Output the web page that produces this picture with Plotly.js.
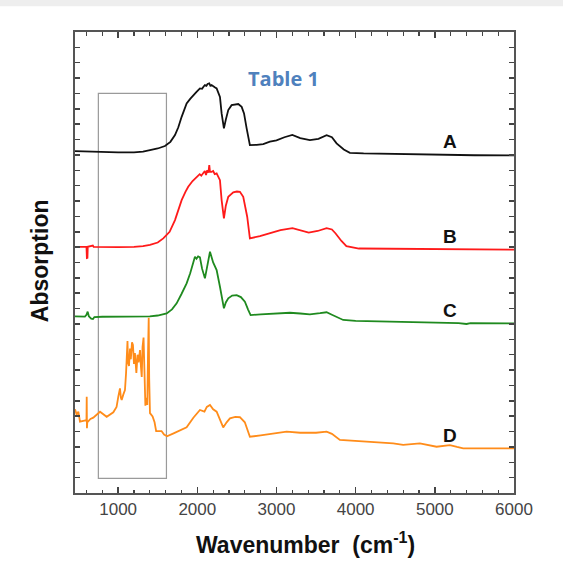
<!DOCTYPE html>
<html>
<head>
<meta charset="utf-8">
<script src="https://cdn.plot.ly/plotly-3.0.1.min.js"></script>
<style>html,body{margin:0;padding:0;background:#fff;}#chart{width:563px;height:561px;}</style>
</head>
<body>
<div id="chart"></div>
<script>
// Spectrum A (black)
const xA = [455, 600, 800, 1000, 1200, 1314, 1402, 1500, 1591, 1660, 1718, 1760, 1802, 1865, 1910, 1949, 1990, 2033, 2060, 2080, 2096, 2115, 2130, 2151, 2165, 2180, 2200, 2220, 2244, 2286, 2307, 2336, 2360, 2391, 2433, 2480, 2517, 2560, 2590, 2623, 2645, 2664, 2750, 2832, 2917, 3000, 3100, 3200, 3300, 3422, 3530, 3633, 3700, 3759, 3850, 3927, 4100, 4470, 5000, 5500, 6000];
const yA = [22.25, 22.22, 22.19, 22.16, 22.17, 22.22, 22.32, 22.42, 22.58, 22.85, 23.29, 23.8, 24.48, 25.35, 25.65, 25.89, 26.1, 26.33, 26.3, 26.45, 26.55, 26.5, 26.62, 26.66, 26.5, 26.55, 26.45, 26.4, 26.33, 25.78, 24.7, 23.73, 24.3, 24.92, 25.24, 25.3, 25.31, 25.13, 24.7, 23.73, 23.1, 22.64, 22.66, 22.71, 22.86, 22.95, 23.15, 23.3, 23.1, 22.97, 23.05, 23.29, 23.15, 22.75, 22.35, 22.14, 22.1, 22.06, 22.02, 21.98, 21.97];

// Spectrum B (red)
const xB = [455, 590, 600, 605, 612, 616, 650, 680, 690, 800, 1000, 1200, 1314, 1402, 1500, 1570, 1650, 1718, 1760, 1802, 1850, 1885, 1940, 1992, 2030, 2050, 2075, 2095, 2110, 2125, 2140, 2151, 2160, 2181, 2200, 2220, 2244, 2286, 2307, 2336, 2360, 2391, 2454, 2500, 2538, 2580, 2630, 2664, 2791, 2917, 3050, 3202, 3300, 3407, 3520, 3633, 3700, 3747, 3820, 3883, 4041, 4500, 5000, 5500, 6000];
const yB = [16.02, 16.03, 16.02, 15.29, 15.3, 16.02, 16.05, 16.1, 16.02, 16.0, 16.0, 16.02, 16.06, 16.14, 16.3, 16.57, 17.0, 17.76, 18.4, 19.06, 19.6, 19.93, 20.3, 20.58, 20.75, 20.65, 20.8, 20.95, 20.7, 21.0, 20.85, 21.34, 20.9, 20.9, 20.95, 20.75, 20.8, 20.36, 19.06, 17.87, 18.7, 19.28, 19.56, 19.62, 19.6, 19.28, 17.98, 16.57, 16.72, 16.9, 17.1, 17.24, 17.1, 16.94, 17.05, 17.24, 17.15, 16.89, 16.4, 16.07, 15.91, 15.9, 15.87, 15.84, 15.84];

// Spectrum C (green)
const xC = [455, 520, 580, 600, 615, 630, 660, 682, 700, 800, 1000, 1200, 1400, 1500, 1613, 1680, 1739, 1800, 1865, 1910, 1949, 1970, 1990, 2010, 2033, 2060, 2096, 2120, 2138, 2160, 2200, 2244, 2286, 2310, 2336, 2360, 2391, 2440, 2497, 2550, 2601, 2640, 2673, 2800, 3000, 3170, 3300, 3422, 3550, 3633, 3700, 3843, 4000, 4474, 5000, 5300, 5400, 5450, 6000];
const yC = [11.5, 11.47, 11.48, 11.6, 11.8, 11.5, 11.35, 11.32, 11.45, 11.47, 11.47, 11.48, 11.5, 11.55, 11.69, 11.95, 12.34, 12.95, 13.64, 14.3, 14.94, 15.37, 15.25, 15.4, 15.33, 14.6, 13.97, 14.6, 15.16, 15.7, 15.0, 14.51, 13.42, 12.6, 12.02, 12.4, 12.67, 12.85, 12.88, 12.75, 12.45, 11.95, 11.58, 11.63, 11.7, 11.73, 11.68, 11.63, 11.7, 11.76, 11.6, 11.26, 11.2, 11.15, 11.1, 11.05, 11.0, 11.06, 11.04];

// Spectrum D (orange)
const xD = [455, 476, 497, 518, 560, 600, 603, 606, 610, 650, 686, 771, 855, 939, 980, 1002, 1015, 1023, 1035, 1045, 1065, 1086, 1100, 1108, 1118, 1125, 1137, 1150, 1160, 1175, 1187, 1200, 1212, 1230, 1245, 1258, 1276, 1288, 1298, 1308, 1321, 1332, 1344, 1358, 1368, 1377, 1386, 1392, 1402, 1435, 1460, 1480, 1548, 1580, 1617, 1700, 1865, 1950, 2033, 2090, 2120, 2160, 2200, 2244, 2327, 2370, 2412, 2480, 2538, 2600, 2664, 2800, 3128, 3300, 3500, 3633, 3700, 3801, 4053, 4474, 4600, 4811, 5022, 5190, 5280, 5358, 6000];
const yD = [5.45, 5.1, 5.3, 4.64, 4.7, 4.75, 6.27, 4.21, 4.6, 4.82, 4.9, 5.29, 4.96, 5.25, 5.6, 6.27, 6.5, 6.81, 6.2, 6.05, 6.4, 6.7, 7.8, 8.65, 9.89, 8.5, 8.26, 9.4, 8.7, 9.8, 9.63, 8.4, 9.1, 7.81, 9.0, 8.5, 9.3, 8.2, 7.55, 9.5, 10.12, 8.0, 5.68, 6.2, 5.73, 9.0, 11.4, 7.5, 5.2, 4.98, 4.6, 4.03, 4.03, 3.8, 3.69, 3.88, 4.27, 4.9, 5.4, 5.3, 5.6, 5.73, 5.45, 5.29, 4.27, 4.6, 4.86, 4.95, 4.93, 4.6, 3.66, 3.75, 3.99, 3.92, 3.92, 3.99, 3.85, 3.45, 3.38, 3.23, 3.13, 3.23, 3.01, 3.12, 3.0, 2.91, 2.91];

const seriesLabels = ['A', 'B', 'C', 'D'];
const labelX = [5190, 5190, 5190, 5190];
const labelY = [22.9, 16.72, 11.9, 3.77];
const xTicks = [1000, 2000, 3000, 4000, 5000, 6000];
const boxX = [750, 1610];
const boxY = [0.95, 26.0];

const colors = ['#111111', '#ff1a1a', '#1f8a1f', '#ff8c1a'];
const xs = [xA, xB, xC, xD];
const ys = [yA, yB, yC, yD];

const traces = xs.map((x, i) => ({
  x: x, y: ys[i], type: 'scatter', mode: 'lines',
  line: {color: colors[i], width: 1.8}, hoverinfo: 'skip', showlegend: false
}));

const annotations = seriesLabels.map((t, i) => ({
  x: labelX[i], y: labelY[i], xref: 'x', yref: 'y', text: '<b>' + t + '</b>', showarrow: false,
  font: {family: 'Liberation Sans, Arial, sans-serif', size: 19, color: '#111'}
}));
annotations.push({
  x: 0.474, y: 0.933, xref: 'paper', yref: 'paper', text: '<b>Table 1</b>', showarrow: false,
  font: {family: 'Open Sans, sans-serif', size: 20, color: '#4f81bd'}
});
annotations.push({
  x: 0.524, y: -0.108, xref: 'paper', yref: 'paper', yanchor: 'middle',
  text: '<b>Wavenumber  (cm<sup>-1</sup>)</b>', showarrow: false,
  font: {family: 'Liberation Sans, Arial, sans-serif', size: 23, color: '#111'}
});
annotations.push({
  x: -0.0797, y: 0.503, xref: 'paper', yref: 'paper', xanchor: 'center', yanchor: 'middle',
  text: '<b>Absorption</b>', textangle: -90, showarrow: false,
  font: {family: 'Liberation Sans, Arial, sans-serif', size: 23, color: '#111'}
});

const layout = {
  width: 563, height: 561,
  margin: {l: 75, r: 49, t: 32, b: 68},
  paper_bgcolor: '#ffffff', plot_bgcolor: '#ffffff',
  xaxis: {
    range: [455, 6000], tickvals: xTicks, ticks: 'inside', ticklen: 6, tickwidth: 1.5, tickcolor: '#444',
    minor: {dtick: 200, tick0: 0, ticks: 'inside', ticklen: 3.5, tickwidth: 1.2, tickcolor: '#444'},
    showline: true, linecolor: '#555', linewidth: 2, mirror: 'ticks',
    showgrid: false, zeroline: false,
    tickfont: {family: 'Liberation Sans, Arial, sans-serif', size: 17, color: '#444'}
  },
  yaxis: {
    range: [0, 30], dtick: 1, tick0: 0, ticks: 'inside', ticklen: 5, tickwidth: 1.5, tickcolor: '#444',
    showticklabels: false, showline: true, linecolor: '#555', linewidth: 2, mirror: 'ticks',
    showgrid: false, zeroline: false
  },
  shapes: [
    {type: 'rect', xref: 'x', yref: 'y', x0: boxX[0], x1: boxX[1], y0: boxY[0], y1: boxY[1],
     line: {color: '#9a9a9a', width: 1.2}, fillcolor: 'rgba(0,0,0,0)', layer: 'below'},
    {type: 'rect', xref: 'paper', yref: 'paper', x0: -0.2, x1: 1.2, y0: 1.056, y1: 1.08,
     line: {width: 0}, fillcolor: '#eeeeee', layer: 'below'}
  ],
  annotations: annotations
};

Plotly.newPlot('chart', traces, layout, {staticPlot: true, displayModeBar: false});
</script>
</body>
</html>
